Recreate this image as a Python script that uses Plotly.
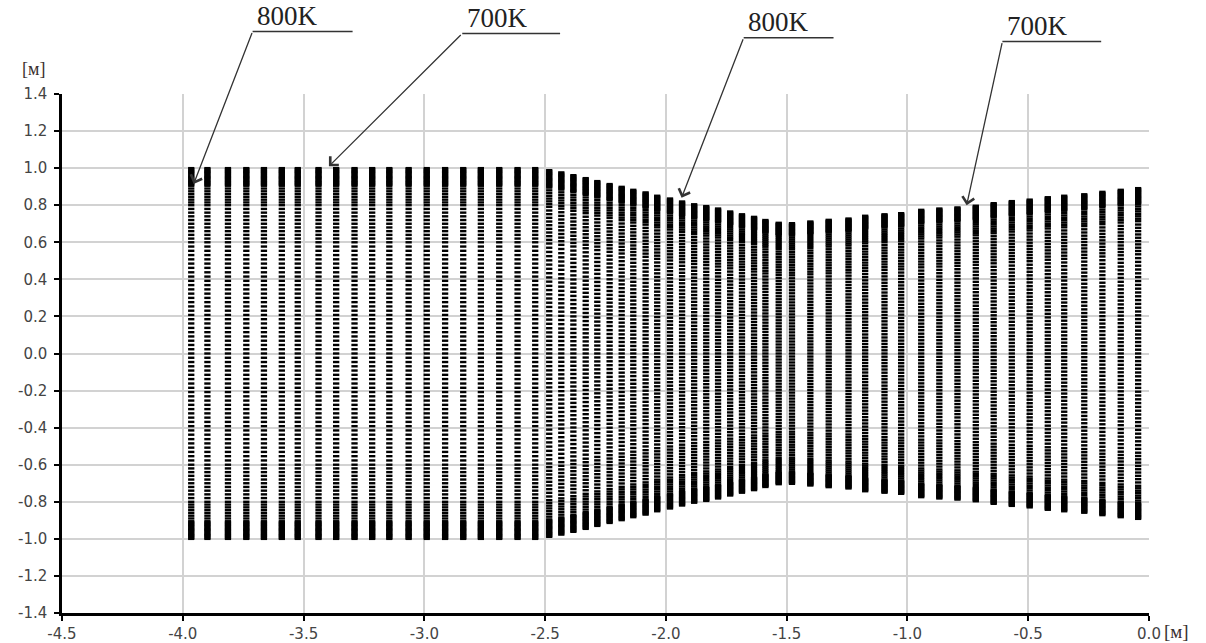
import plotly.graph_objects as go

# Mesh columns: x position of each column and its half-height (column spans -h..+h)
col_x = [
    -3.965, -3.898, -3.813, -3.737, -3.664, -3.590, -3.524, -3.438, -3.365, -3.289,
    -3.216, -3.145, -3.065, -2.990, -2.914, -2.839, -2.766, -2.690, -2.614, -2.541,
    -2.483, -2.433, -2.383, -2.332, -2.284, -2.233, -2.183, -2.135, -2.084, -2.036,
    -1.983, -1.933, -1.883, -1.833, -1.784, -1.734, -1.685, -1.635, -1.588,
    -1.533, -1.478,
    -1.402, -1.326, -1.244, -1.175, -1.095, -1.026, -0.943, -0.868, -0.793, -0.717,
    -0.643, -0.568, -0.494, -0.419, -0.351, -0.268, -0.193, -0.117, -0.045,
]
col_h = [
    1.000, 1.000, 1.000, 1.000, 1.000, 1.000, 1.000, 1.000, 1.000, 1.000,
    1.000, 1.000, 1.000, 1.000, 1.000, 1.000, 1.000, 1.000, 1.000, 1.000,
    0.989, 0.977, 0.962, 0.946, 0.930, 0.914, 0.899, 0.883, 0.869, 0.851,
    0.836, 0.820, 0.805, 0.795, 0.782, 0.766, 0.751, 0.737, 0.720,
    0.705, 0.703,
    0.712, 0.721, 0.728, 0.743, 0.751, 0.757, 0.775, 0.782, 0.788, 0.797,
    0.811, 0.822, 0.830, 0.843, 0.851, 0.859, 0.872, 0.883, 0.892,
]

# Relative node positions along a column (upper half, as a fraction of the half-height);
# nodes are packed tightly at the wall and spread out toward the centre line
node_frac = [
    1.000, 0.993, 0.986, 0.980, 0.973, 0.966, 0.959, 0.952, 0.946, 0.939,
    0.932, 0.925, 0.918, 0.912, 0.905,
    0.890, 0.875, 0.860, 0.845, 0.830, 0.815, 0.800,
    0.780, 0.760, 0.740, 0.720, 0.700, 0.680, 0.660, 0.640, 0.620, 0.600,
    0.577, 0.554, 0.531, 0.508, 0.485, 0.462, 0.438, 0.415, 0.392, 0.369,
    0.346, 0.323, 0.300, 0.277, 0.254, 0.231, 0.208, 0.185, 0.162, 0.138,
    0.115, 0.092, 0.069, 0.046, 0.023, 0.000,
]

x_ticks = [-4.5, -4.0, -3.5, -3.0, -2.5, -2.0, -1.5, -1.0, -0.5, 0.0]
y_ticks = [1.4, 1.2, 1.0, 0.8, 0.6, 0.4, 0.2, 0.0, -0.2, -0.4, -0.6, -0.8, -1.0, -1.2, -1.4]

# Temperature callouts: label, arrow target (x, y), elbow of the leader (x, y), end of underline x
callouts = [
    ("800K", -3.955, 0.915, -3.711, 1.737, -3.297),
    ("700K", -3.395, 1.010, -2.843, 1.726, -2.438),
    ("800K", -1.935, 0.840, -1.678, 1.704, -1.306),
    ("700K", -0.755, 0.800, -0.607, 1.683, -0.198),
]

X_RANGE = (-4.5, 0.0)
Y_RANGE = (-1.4, 1.4)


def to_paper_x(v):
    return (v - X_RANGE[0]) / (X_RANGE[1] - X_RANGE[0])


def to_paper_y(v):
    return (v - Y_RANGE[0]) / (Y_RANGE[1] - Y_RANGE[0])


# Expand columns into node coordinates
xs, ys = [], []
for cx, h in zip(col_x, col_h):
    for f in node_frac:
        xs.append(cx)
        ys.append(h * f)
        if f > 0:
            xs.append(cx)
            ys.append(-h * f)

fig = go.Figure()
fig.add_trace(go.Scatter(
    x=xs, y=ys, mode="markers",
    marker=dict(symbol="line-ew", size=4.5, line=dict(width=2.4, color="#000000")),
    hoverinfo="skip", showlegend=False,
))

annotations = []
shapes = []
for label, tx, ty, ex, ey, ux in callouts:
    annotations.append(dict(
        x=tx, y=ty, xref="x", yref="y",
        ax=ex, ay=ey, axref="x", ayref="y",
        text="", showarrow=True, arrowhead=4, arrowsize=1.8,
        arrowwidth=1.3, arrowcolor="#333333", standoff=0,
    ))
    shapes.append(dict(
        type="line", xref="paper", yref="paper",
        x0=to_paper_x(ex), y0=to_paper_y(ey), x1=to_paper_x(ux), y1=to_paper_y(ey),
        line=dict(color="#333333", width=1.5),
    ))
    annotations.append(dict(
        x=to_paper_x(ex) + 0.003, y=to_paper_y(ey), xref="paper", yref="paper",
        text=label, showarrow=False, xanchor="left", yanchor="bottom",
        font=dict(family="Liberation Serif", size=27, color="#222222"),
        borderpad=0,
    ))

# Units
annotations.append(dict(
    x=-0.026, y=1.049, xref="paper", yref="paper", text="[м]", showarrow=False,
    xanchor="center", yanchor="middle",
    font=dict(family="Liberation Serif", size=18, color="#3a2f2f"),
))
annotations.append(dict(
    x=1.0, y=-0.036, xref="paper", yref="paper", text="[м]", showarrow=False,
    xanchor="left", yanchor="middle", xshift=13,
    font=dict(family="Liberation Serif", size=19, color="#3a2f2f"),
))

tick_font = dict(family="DejaVu Sans", size=15, color="#444444")

fig.update_layout(
    width=1206, height=643,
    margin=dict(l=62, r=57, t=94, b=30, autoexpand=False),
    paper_bgcolor="white", plot_bgcolor="white",
    annotations=annotations, shapes=shapes,
    xaxis=dict(
        range=list(X_RANGE), tickvals=x_ticks, ticktext=[f"{v:.1f}" for v in x_ticks],
        showgrid=True, gridcolor="#d2d2d2", gridwidth=1.5, zeroline=False,
        showline=True, linecolor="black", linewidth=2.5, automargin=False,
        ticks="outside", ticklen=5, tickwidth=2, tickcolor="black",
        ticklabelstandoff=0, tickfont=tick_font,
    ),
    yaxis=dict(
        range=list(Y_RANGE), tickvals=y_ticks, ticktext=[f"{v:.1f}" for v in y_ticks],
        showgrid=True, gridcolor="#d2d2d2", gridwidth=1.5, zeroline=False,
        showline=True, linecolor="black", linewidth=2.5, automargin=False,
        ticks="outside", ticklen=5, tickwidth=2, tickcolor="black",
        ticklabelstandoff=4, tickfont=tick_font,
    ),
)

fig.write_html("out.html")
